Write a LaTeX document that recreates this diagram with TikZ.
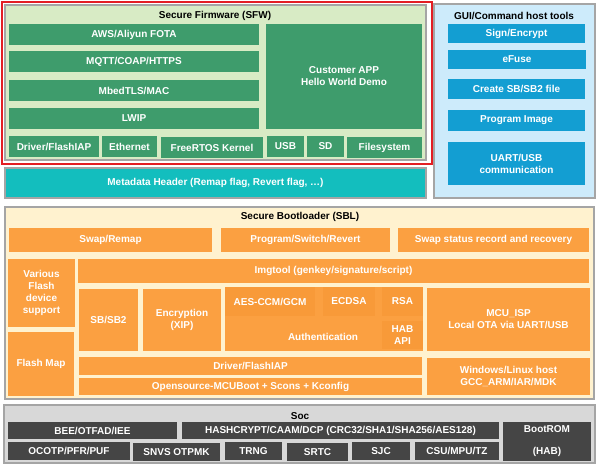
\documentclass[tikz,border=0pt]{standalone}
\usepackage{fontspec}
\setmainfont{Liberation Sans}
\definecolor{sfwbg}{HTML}{D8EBC5}
\definecolor{sfwg}{HTML}{3E9C6C}
\definecolor{redb}{HTML}{E31E24}
\definecolor{grayb}{HTML}{A5A5A5}
\definecolor{guibg}{HTML}{CDEBFB}
\definecolor{guib}{HTML}{139ED2}
\definecolor{metac}{HTML}{13BEBE}
\definecolor{sblbg}{HTML}{FFF2CF}
\definecolor{sblo}{HTML}{FBA041}
\definecolor{sblo2}{HTML}{F89A39}
\definecolor{socbg}{HTML}{D8D8D8}
\definecolor{socd}{HTML}{454545}
\newcommand\mybox[7]{\node[#2, anchor=north west, minimum width={(#5)-(#3)}, minimum height={(#6)-(#4)}] (#1) at (#3,#4) {#7};}
\tikzset{
  base/.style={inner sep=0pt, outer sep=0pt, align=center, font=\fontsize{10}{12}\selectfont\bfseries},
  gbox/.style={base, fill=sfwg, text=white},
  bbox/.style={base, fill=guib, text=white},
  obox/.style={base, fill=sblo, text=white},
  obox2/.style={base, fill=sblo2, text=white},
  dbox/.style={base, fill=socd, text=white},
  cont/.style={base, draw=grayb, line width=1.5pt},
  title/.style={base, text=black},
}
\begin{document}
\begin{tikzpicture}[x=1pt,y=-1pt]
\useasboundingbox[fill=white] (0,0) rectangle (598,465);
% Secure Firmware
\mybox{red}{base, draw=redb, line width=2pt}{2}{2}{432}{164}{}
\mybox{sfw}{cont, fill=sfwbg}{5}{5}{426}{160}{}
\node[title] (sfwt) at (215,16) {Secure Firmware (SFW)};
\mybox{aws}{gbox}{9}{24}{259}{45}{AWS/Aliyun FOTA}
\mybox{mqtt}{gbox}{9}{51}{259}{72}{MQTT/COAP/HTTPS}
\mybox{mbed}{gbox}{9}{80}{259}{101}{MbedTLS/MAC}
\mybox{lwip}{gbox}{9}{108}{259}{129}{LWIP}
\mybox{drv}{gbox}{9}{136}{99}{157}{Driver/FlashIAP}
\mybox{eth}{gbox}{102}{136}{157}{157}{Ethernet}
\mybox{rtos}{gbox}{161}{137}{263}{158}{FreeRTOS Kernel}
\mybox{usb}{gbox}{267}{136}{304}{157}{USB}
\mybox{sd}{gbox}{307}{136}{344}{157}{SD}
\mybox{fs}{gbox}{347}{137}{422}{158}{Filesystem}
\mybox{app}{gbox}{266}{24}{422}{129}{Customer APP\\Hello World Demo}
% GUI tools
\mybox{gui}{cont, fill=guibg}{434}{4}{595}{198}{}
\node[title] (guit) at (514,16) {GUI/Command host tools};
\mybox{sign}{bbox}{448}{24}{585}{43}{Sign/Encrypt}
\mybox{efuse}{bbox}{448}{50}{586}{69}{eFuse}
\mybox{create}{bbox}{448}{79}{585}{99}{Create SB/SB2 file}
\mybox{prog}{bbox}{448}{110}{585}{131}{Program Image}
\mybox{uart}{bbox}{448}{142}{585}{185}{UART/USB\\communication}
% Metadata
\mybox{meta}{cont, fill=metac, text=white}{5}{168}{426}{198}{Metadata Header (Remap flag, Revert flag, \dots)}
% Secure Bootloader
\mybox{sbl}{cont, fill=sblbg}{5}{207}{594}{399}{}
\node[title] (sblt) at (300,217) {Secure Bootloader (SBL)};
\mybox{swap}{obox}{9}{228}{212}{252}{Swap/Remap}
\mybox{psr}{obox}{221}{228}{390}{252}{Program/Switch/Revert}
\mybox{sstat}{obox}{398}{228}{589}{252}{Swap status record and recovery}
\mybox{various}{obox}{8}{259}{75}{327}{Various\\Flash\\device\\support}
\mybox{fmap}{obox}{8}{332}{74}{396}{Flash Map}
\mybox{img}{obox}{78}{259}{589}{283}{Imgtool (genkey/signature/script)}
\mybox{sb}{obox}{79}{289}{138}{351}{SB/SB2}
\mybox{enc}{obox}{143}{289}{221}{351}{Encryption\\(XIP)}
\mybox{auth}{obox}{225}{287}{423}{351}{}
\node[base, text=white] (autht) at (323,337) {Authentication};
\mybox{aes}{obox2}{225}{287}{315}{316}{AES-CCM/GCM}
\mybox{ecdsa}{obox2}{323}{287}{375}{316}{ECDSA}
\mybox{rsa}{obox2}{382}{287}{423}{316}{RSA}
\mybox{hab}{obox2}{382}{321}{423}{349}{HAB\\API}
\mybox{isp}{obox}{427}{288}{590}{351}{MCU\_ISP\\Local OTA via UART/USB}
\mybox{drvb}{obox}{79}{357}{422}{375}{Driver/FlashIAP}
\mybox{mcub}{obox}{79}{378}{422}{395}{Opensource-MCUBoot + Scons + Kconfig}
\mybox{win}{obox}{427}{358}{590}{395}{Windows/Linux host\\GCC\_ARM/IAR/MDK}
% Soc
\mybox{soc}{cont, fill=socbg, line width=2pt}{4}{405}{595}{463}{}
\node[title] (soct) at (300,416) {Soc};
\mybox{bee}{dbox}{8}{422}{177}{439}{BEE/OTFAD/IEE}
\mybox{hash}{dbox}{182}{422}{499}{439}{HASHCRYPT/CAAM/DCP (CRC32/SHA1/SHA256/AES128)}
\mybox{brom}{dbox}{503}{422}{591}{461}{BootROM\\[10pt](HAB)}
\mybox{ocotp}{dbox}{8}{442}{130}{460}{OCOTP/PFR/PUF}
\mybox{snvs}{dbox}{133}{443}{220}{461}{SNVS OTPMK}
\mybox{trng}{dbox}{225}{442}{282}{460}{TRNG}
\mybox{srtc}{dbox}{287}{443}{348}{461}{SRTC}
\mybox{sjc}{dbox}{352}{442}{410}{460}{SJC}
\mybox{csu}{dbox}{415}{442}{499}{460}{CSU/MPU/TZ}
\end{tikzpicture}
\end{document}
